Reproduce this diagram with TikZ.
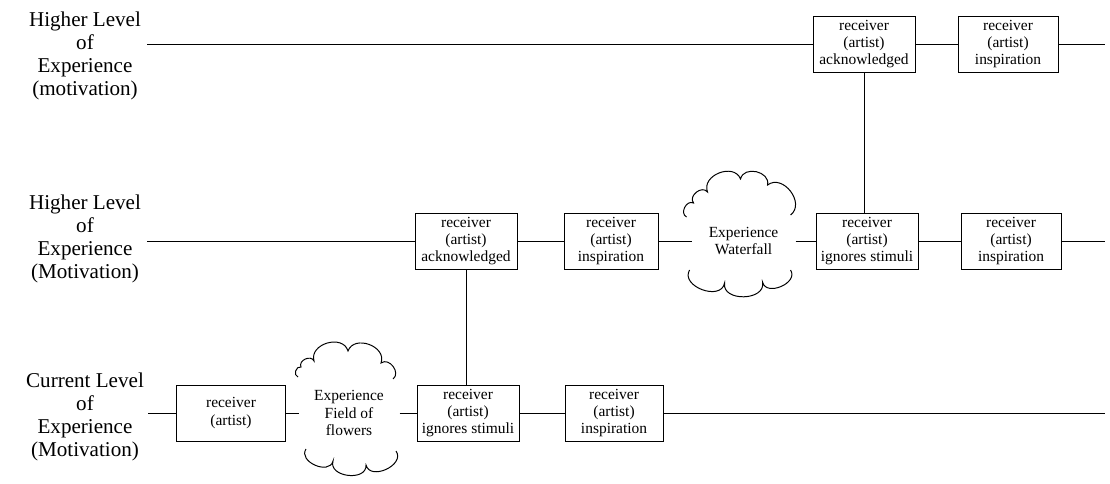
\documentclass[tikz,border=0pt]{standalone}
\usepackage{fontspec}
\setmainfont{Liberation Serif}
\usetikzlibrary{positioning}

\begin{document}
\begin{tikzpicture}[x=0.025cm, y=-0.025cm, line width=0.7pt]
\tikzset{
  box/.style={draw, align=center, inner sep=2pt, font=\fontsize{11}{12.2}\selectfont, minimum width=2.55cm, minimum height=1.4cm},
  level/.style={align=center, font=\fontsize{15}{16.3}\selectfont},
  cloudtxt/.style={align=center, inner sep=0pt, font=\fontsize{11}{12.2}\selectfont},
  lobe/.style={looseness=1.3}
}
\useasboundingbox (0,0) rectangle (1110,483);

% Levels
\node[level] (lvTop) at (85,56) {Higher Level\\of\\Experience\\(motivation)};
\node[level] (lvMid) at (85,239) {Higher Level\\of\\Experience\\(Motivation)};
\node[level] (lvCur) at (85,417) {Current Level\\of\\Experience\\(Motivation)};

% Top row
\node[box] (ackT) at (864,44) {receiver\\(artist)\\acknowledged};
\node[box, minimum width=2.5cm, right=10.5mm of ackT] (inspT) {receiver\\(artist)\\inspiration};

% Middle row
\node[box] (ackM) at (466,241) {receiver\\(artist)\\acknowledged};
\node[box, minimum width=2.35cm, right=11.5mm of ackM] (inspM) {receiver\\(artist)\\inspiration};
\node[cloudtxt, minimum width=2.575cm, right=8.25mm of inspM] (water) {Experience\\Waterfall};
\node[box, right=5mm of water] (ignM) {receiver\\(artist)\\ignores stimuli};
\node[box, minimum width=2.5cm, right=10.5mm of ignM] (inspM2) {receiver\\(artist)\\inspiration};

% Bottom row
\node[box, minimum width=2.7cm] (recB) at (231,413) {receiver\\(artist)};
\node[cloudtxt, minimum width=2.5cm, right=3.25mm of recB] (flowers) {Experience\\Field of\\flowers};
\node[box, right=4.25mm of flowers] (ignB) {receiver\\(artist)\\ignores stimuli};
\node[box, minimum width=2.45cm, right=11.25mm of ignB] (inspB) {receiver\\(artist)\\inspiration};

% Line ends
\coordinate (sT) at (147,44);
\coordinate (eT) at (1105,44);
\coordinate (sM) at (147,241);
\coordinate (eM) at (1105,241);
\coordinate (sB) at (148,413);
\coordinate (eB) at (1105,413);

% Connectors
\draw (sT) -- (ackT);
\draw (ackT) -- (inspT);
\draw (inspT) -- (eT);
\draw (sM) -- (ackM);
\draw (ackM) -- (inspM);
\draw (inspM) -- (water);
\draw (water) -- (ignM);
\draw (ignM) -- (inspM2);
\draw (inspM2) -- (eM);
\draw (sB) -- (recB);
\draw (recB) -- (flowers);
\draw (flowers) -- (ignB);
\draw (ignB) -- (inspB);
\draw (inspB) -- (eB);
\draw (ackT.south) -- (ackT.south |- ignM.north);
\draw (ackM.south) -- (ackM.south |- ignB.north);

% Cloud rims
\begin{scope}[shift={(water.center)}]
\draw (-57,-24) to[bend left=90, lobe] (-50,-38) to[bend left=90, lobe] (-36,-49) to[bend left=90, lobe] (-3,-62) to[bend left=90, lobe] (24,-56) to[bend left=90, lobe] (47,-26);
\draw (-54,29) to[bend right=100, lobe] (-19,42) to[bend right=100, lobe] (19,41) to[bend right=100, lobe] (47,29);
\end{scope}
\begin{scope}[shift={(flowers.center)}]
\draw (-51,-36) to[bend left=90, lobe] (-48,-46) to[bend left=90, lobe] (-35,-52) to[bend left=90, lobe] (-1,-62) to[bend left=90, lobe] (32,-50) to[bend left=90, lobe] (44,-34);
\draw (-43,36) to[bend right=100, lobe] (-16,48) to[bend right=100, lobe] (17,52) to[bend right=100, lobe] (47,38);
\end{scope}
\end{tikzpicture}
\end{document}
